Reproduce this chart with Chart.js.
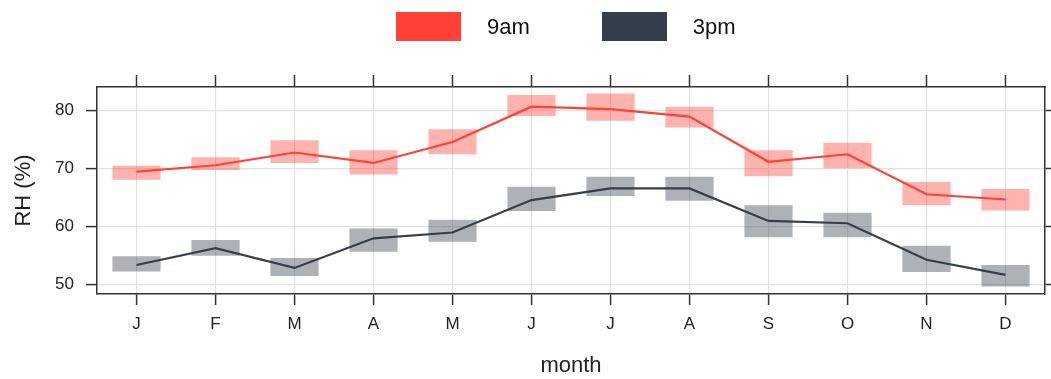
<!DOCTYPE html>
<html>
<head>
<meta charset="utf-8">
<title>Relative humidity by month</title>
<script src="https://cdn.jsdelivr.net/npm/chart.js@4/dist/chart.umd.min.js"></script>
<style>
  html, body { margin: 0; padding: 0; background: #fff; }
  #wrap { position: relative; width: 1051px; height: 379px; }
  #rhChart { position: absolute; left: 0; top: 0; }
  #legend {
    position: absolute; left: 396px; top: 12px;
    display: flex; align-items: center; gap: 72px;
    font-family: "Liberation Sans", Arial, sans-serif; font-size: 22px; color: #111;
  }
  .legend-item { display: flex; align-items: center; }
  .legend-box { width: 65px; height: 29px; margin-right: 26px; }
</style>
</head>
<body>
<div id="wrap">
  <canvas id="rhChart" width="1051" height="379"></canvas>
  <div id="legend"></div>
</div>
<script>
// Monthly relative humidity, mean line plus spread band
const months = ['J', 'F', 'M', 'A', 'M', 'J', 'J', 'A', 'S', 'O', 'N', 'D'];

const am9 = [69.4, 70.5, 72.7, 70.9, 74.5, 80.6, 80.2, 78.9, 71.1, 72.4, 65.5, 64.6];
const am9Low = [68.0, 69.7, 70.9, 68.9, 72.4, 79.0, 78.2, 77.0, 68.6, 70.0, 63.6, 62.7];
const am9High = [70.4, 71.9, 74.8, 73.1, 76.7, 82.6, 82.9, 80.6, 73.1, 74.4, 67.6, 66.4];

const pm3 = [53.3, 56.2, 52.8, 57.9, 58.9, 64.5, 66.5, 66.5, 60.9, 60.5, 54.2, 51.6];
const pm3Low = [52.2, 54.9, 51.4, 55.6, 57.3, 62.6, 65.2, 64.4, 58.1, 58.1, 52.1, 49.6];
const pm3High = [54.8, 57.6, 54.5, 59.6, 61.1, 66.8, 68.5, 68.5, 63.6, 62.3, 56.6, 53.3];

const yTicks = [50, 60, 70, 80];
const yMin = 48.3;
const yMax = 84;

const seriesNames = ['9am', '3pm'];
const seriesColors = ['#ff4136', '#353f4a'];
const bandColors = ['rgba(255, 65, 54, 0.4)', 'rgba(53, 63, 74, 0.4)'];

const FONT = '"Liberation Sans", Arial, sans-serif';
const INK = '#222';

// legend
const legendEl = document.getElementById('legend');
seriesNames.forEach((name, i) => {
    const item = document.createElement('div');
    item.className = 'legend-item';
    const box = document.createElement('div');
    box.className = 'legend-box';
    box.style.background = seriesColors[i];
    const label = document.createElement('span');
    label.textContent = name;
    item.appendChild(box);
    item.appendChild(label);
    legendEl.appendChild(item);
});

function band(low, high) {
    return low.map((v, i) => [v, high[i]]);
}

const frame = { display: true, color: '#333', width: 1.5 };
const gridColor = '#e2e2e2';

new Chart(document.getElementById('rhChart'), {
    type: 'line',
    data: {
        labels: months,
        datasets: [
            {
                type: 'line', label: seriesNames[0], data: am9,
                borderColor: seriesColors[0], borderWidth: 2.2,
                pointRadius: 0, tension: 0, order: 1
            },
            {
                type: 'line', label: seriesNames[1], data: pm3,
                borderColor: seriesColors[1], borderWidth: 2.2,
                pointRadius: 0, tension: 0, order: 1
            },
            {
                type: 'bar', label: seriesNames[0] + ' range', data: band(am9Low, am9High),
                backgroundColor: bandColors[0], borderWidth: 0,
                barPercentage: 1, categoryPercentage: 0.61, grouped: false, order: 2
            },
            {
                type: 'bar', label: seriesNames[1] + ' range', data: band(pm3Low, pm3High),
                backgroundColor: bandColors[1], borderWidth: 0,
                barPercentage: 1, categoryPercentage: 0.61, grouped: false, order: 2
            }
        ]
    },
    options: {
        responsive: false,
        animation: false,
        events: [],
        layout: { padding: 0 },
        plugins: {
            legend: { display: false },
            tooltip: { enabled: false }
        },
        scales: {
            x: {
                type: 'category',
                position: 'bottom',
                offset: true,
                border: frame,
                grid: {
                    offset: false, color: gridColor, lineWidth: 1.2,
                    drawTicks: true, tickLength: 11, tickColor: '#333', tickWidth: 1.5
                },
                ticks: { color: INK, font: { family: FONT, size: 17 }, padding: 9, maxRotation: 0 },
                title: {
                    display: true, text: 'month', color: INK,
                    font: { family: FONT, size: 22 }, padding: { top: 0, bottom: 0 }
                },
                afterFit: s => { s.height = 85; }
            },
            xTop: {
                type: 'category',
                position: 'top',
                offset: true,
                border: frame,
                grid: {
                    offset: false, drawOnChartArea: false,
                    drawTicks: true, tickLength: 12, tickColor: '#333', tickWidth: 1.5
                },
                ticks: { display: false },
                afterFit: s => { s.height = 87; }
            },
            y: {
                type: 'linear',
                position: 'left',
                min: yMin,
                max: yMax,
                border: frame,
                grid: {
                    color: gridColor, lineWidth: 1.2,
                    drawTicks: true, tickLength: 11, tickColor: '#333', tickWidth: 1.5
                },
                afterBuildTicks: s => { s.ticks = yTicks.map(v => ({ value: v })); },
                ticks: { color: INK, font: { family: FONT, size: 17 }, padding: 12 },
                title: {
                    display: true, text: 'RH (%)', color: INK,
                    font: { family: FONT, size: 22 }, padding: { top: 11, bottom: 0 }
                },
                afterFit: s => { s.width = 97; }
            },
            yRight: {
                type: 'linear',
                position: 'right',
                min: yMin,
                max: yMax,
                border: frame,
                grid: {
                    drawOnChartArea: false,
                    drawTicks: true, tickLength: 11, tickColor: '#333', tickWidth: 1.5
                },
                afterBuildTicks: s => { s.ticks = yTicks.map(v => ({ value: v })); },
                ticks: { display: false },
                afterFit: s => { s.width = 6; }
            }
        }
    }
});
</script>
</body>
</html>
